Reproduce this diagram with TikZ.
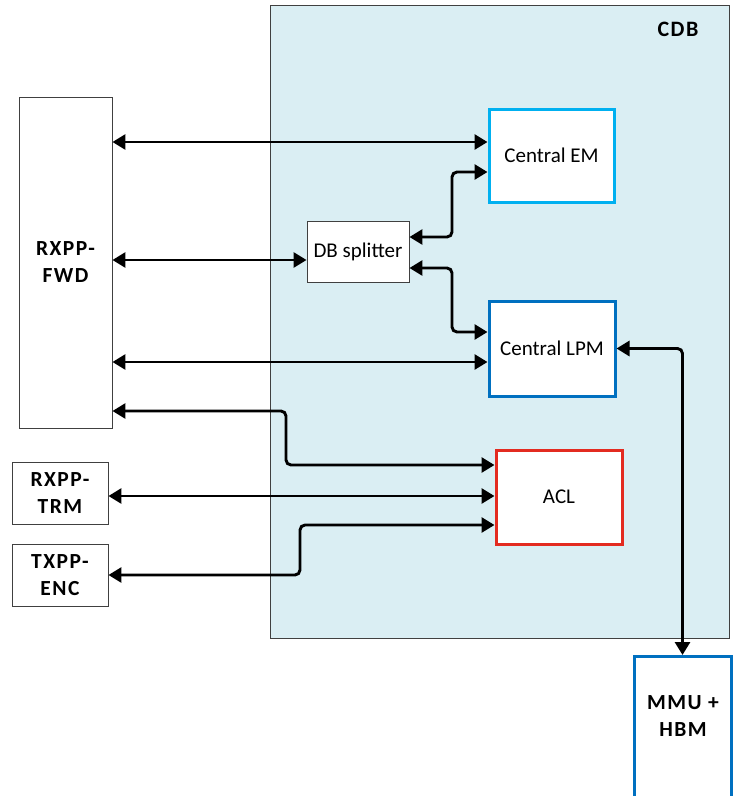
\documentclass[tikz,border=0pt]{standalone}
\usepackage{fontspec}
\usepackage{xcolor}
\usepackage{tikz}
\usetikzlibrary{arrows.meta}
\setmainfont{Carlito}
\newfontfamily\spacedfont{Carlito}[LetterSpace=7.0]

\definecolor{cdbfill}{HTML}{DAEEF3}
\definecolor{emcyan}{HTML}{00B0F0}
\definecolor{lpmblue}{HTML}{0070C0}
\definecolor{aclred}{HTML}{E32B20}
\definecolor{thinline}{HTML}{404040}

\tikzset{
    plainbox/.style={draw=thinline, line width=0.9pt, fill=white, inner sep=0pt},
    unitbox/.style={line width=3pt, fill=white, inner sep=0pt, font=\fontsize{21}{25}\selectfont},
    boldlbl/.style={align=center, font=\spacedfont\bfseries\fontsize{21.5}{27}\selectfont},
    link/.style={line width=2.9pt, rounded corners=5pt,
        {Triangle[length=13pt,width=15pt]}-{Triangle[length=13pt,width=15pt]}}
}

\begin{document}
\begin{tikzpicture}[x=1pt, y=-1pt]
        \useasboundingbox (0,0) rectangle (734,796);

        % outer block
        \node[draw=thinline, line width=0.9pt, fill=cdbfill, minimum width=459pt, minimum height=633pt] (cdb) at (499.5,321.5) {};
        \node[boldlbl, font=\spacedfont\bfseries\fontsize{22}{27}\selectfont] (cdblbl) at (678,29) {CDB};

        % pipeline blocks on the left
        \node[plainbox, minimum width=93pt, minimum height=331pt] (fwd) at (65.5,262.5) {};
        \node[boldlbl] (fwdlbl) at (fwd.center) {RXPP-\\FWD};
        \node[plainbox, minimum width=96pt, minimum height=62pt] (trm) at (60,493) {};
        \node[boldlbl] (trmlbl) at (trm.center) {RXPP-\\TRM};
        \node[plainbox, minimum width=96pt, minimum height=62pt] (enc) at (60,575) {};
        \node[boldlbl] (enclbl) at (enc.center) {TXPP-\\ENC};

        % units inside CDB
        \node[plainbox, minimum width=102pt, minimum height=61pt, font=\fontsize{21}{25}\selectfont] (split) at (358,251.5) {DB splitter};
        \node[unitbox, draw=emcyan, minimum width=125pt, minimum height=93pt] (em) at (551.5,155.5) {Central EM};
        \node[unitbox, draw=lpmblue, minimum width=126pt, minimum height=95pt] (lpm) at (552,348.5) {Central LPM};
        \node[unitbox, draw=aclred, minimum width=126pt, minimum height=94pt] (acl) at (559,497) {ACL};

        % memory below
        \node[unitbox, draw=lpmblue, minimum width=97pt, minimum height=175pt] (mmu) at (682.5,744) {};
        \node[boldlbl] (mmulbl) at (683,716) {MMU +\\HBM};

        \draw[link] (fwd.east |- 0,142) -- (em.west |- 0,142);
        \draw[link] (fwd.east |- 0,260) -- (split.west |- 0,260);
        \draw[link] (fwd.east |- 0,362) -- (lpm.west |- 0,362);
        \draw[link] (fwd.east |- 0,411) -- (286,411) -- (286,465) -- (acl.west |- 0,465);
        \draw[link] (trm.east |- 0,496) -- (acl.west |- 0,496);
        \draw[link] (enc.east |- 0,575) -- (300,575) -- (300,525) -- (acl.west |- 0,525);

        \draw[link] (split.east |- 0,237) -- (452,237) -- (452,172) -- (em.west |- 0,172);
        \draw[link] (split.east |- 0,268) -- (452,268) -- (452,332) -- (lpm.west |- 0,332);
        \draw[link] (lpm.east) -| (mmu.north); % to MMU
    \end{tikzpicture}
\end{document}
